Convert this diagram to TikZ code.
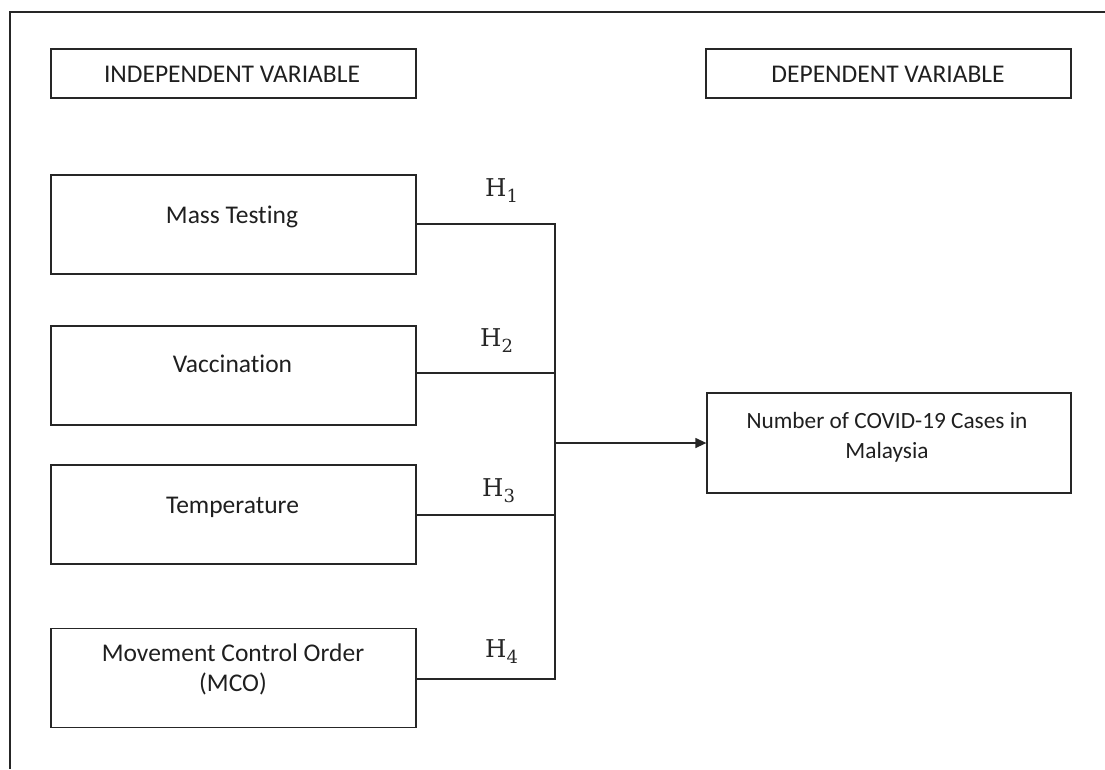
\documentclass[tikz,border=0pt]{standalone}
\usepackage[no-math]{fontspec}
\setmainfont{Carlito}[Ligatures=NoCommon]
\newfontfamily\hfont{DejaVu Serif}
\usetikzlibrary{arrows.meta}
\newcommand{\hyp}[1]{{\hfont\fontsize{24.5}{30}\selectfont H\raisebox{-6pt}{\fontsize{18}{20}\selectfont #1}}}
\begin{document}
\begin{tikzpicture}[x=1pt,y=-1pt,
  box/.style={draw=black!85,line width=1.3pt,minimum width=365pt,minimum height=99pt,inner sep=0pt},
  hbox/.style={box,minimum height=49pt},
  txt/.style={anchor=base,inner sep=0pt,text=black!88,font=\fontsize{25.5}{30}\selectfont},
  stxt/.style={txt,font=\fontsize{23.3}{28}\selectfont},
  link/.style={draw=black!85,line width=1.3pt},
  hlab/.style={anchor=base west,text=black!85,inner sep=0pt}]
\useasboundingbox (0,0) rectangle (1105,769);
\draw[link] (1105,12) -- (10,12) -- (10,769);
% boxes
\node[hbox] (iv) at (233.5,73.5) {};
\node[hbox] (dv) at (888.5,73.5) {};
\node[box] (mt) at (233.5,224.5) {};
\node[box] (va) at (233.5,375.5) {};
\node[box] (te) at (233.5,514.5) {};
\node[box] (mco) at (233.5,678) {};
\node[box,minimum width=364pt,minimum height=100pt] (cases) at (889,443) {};
% texts
\node[txt] (ivt) at (232,82) {INDEPENDENT VARIABLE};
\node[txt] (dvt) at (888,82) {DEPENDENT VARIABLE};
\node[txt] (mtt) at (232,223) {Mass Testing};
\node[txt] (vat) at (232.5,372.5) {Vaccination};
\node[txt] (tet) at (232.5,513) {Temperature};
\node[txt] (mcot1) at (233,661) {Movement Control Order};
\node[txt] (mcot2) at (233,691) {(MCO)};
\node[stxt] (ct1) at (887,428) {Number of COVID-19 Cases in};
\node[stxt] (ct2) at (887,458) {Malaysia};
% connectors
\coordinate (top) at (555,224);
\coordinate (bot) at (555,679);
\coordinate (mid) at (555,443);
\draw[link] (mt.east |- top) -- (top) -- (bot) -- (mco.east |- bot);
\draw[link] (va.east |- 0,373) -- (555,373);
\draw[link] (te.east |- 0,515) -- (555,515);
\draw[link,-{Triangle[length=11pt,width=10pt]}] (mid) -- (cases.west);
% hypothesis labels
\node[hlab] (h1) at (485,196) {\hyp{1}};
\node[hlab] (h2) at (480,346) {\hyp{2}};
\node[hlab] (h3) at (482,496) {\hyp{3}};
\node[hlab] (h4) at (485,657) {\hyp{4}};
\end{tikzpicture}
\end{document}
